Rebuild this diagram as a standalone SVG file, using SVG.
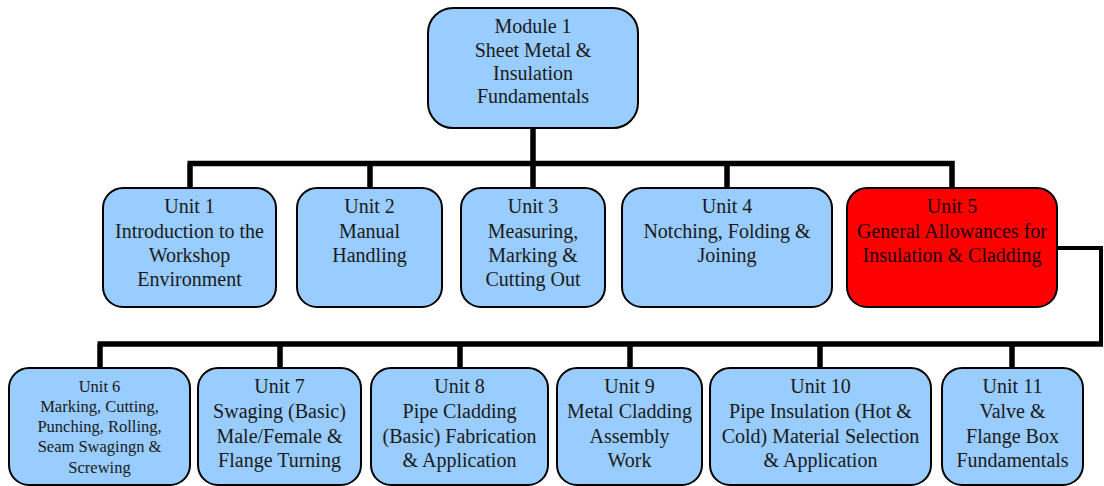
<svg xmlns="http://www.w3.org/2000/svg" width="1104" height="486" viewBox="0 0 1104 486">
<style>
.box{fill:#99ccff;stroke:#000;stroke-width:2}
.red{fill:#ff0000;stroke:#000;stroke-width:2}
text{font-family:"Liberation Serif","DejaVu Serif",serif;font-size:20px;fill:#1a1a1a;text-anchor:middle}
.sm{font-size:16.5px}
.dk{fill:#1a0000}
.ln{fill:none;stroke:#000;stroke-width:5.5;stroke-linecap:butt}
.ln2{fill:none;stroke:#000;stroke-width:4}
</style>
<rect width="1104" height="486" fill="#fff"/>
<g id="connectors">
<path class="ln" d="M533,128 V188 M187.5,163.5 H954.5 M190,163.5 V188 M370,163.5 V188 M727,163.5 V188 M952,161 V188"/>
<path class="ln2" d="M1057,248 H1101 V344"/>
<path class="ln" d="M97.5,344 H1103 M100,344 V368 M280,344 V368 M460,344 V368 M630,344 V368 M820,344 V368 M1012,344 V368"/>
</g>
<g id="module1"><rect class="box" x="428" y="8" width="210" height="120" rx="25"/>
<text x="533" y="33">Module 1</text><text x="533" y="57">Sheet Metal &amp;</text><text x="533" y="80">Insulation</text><text x="533" y="103">Fundamentals</text></g>
<g id="unit1"><rect class="box" x="103" y="188" width="173" height="119" rx="20"/>
<text x="189.5" y="213">Unit 1</text><text x="189.5" y="238">Introduction to the</text><text x="189.5" y="262">Workshop</text><text x="189.5" y="286">Environment</text></g>
<g id="unit2"><rect class="box" x="297" y="188" width="145" height="119" rx="20"/>
<text x="369.5" y="213">Unit 2</text><text x="369.5" y="238">Manual</text><text x="369.5" y="262">Handling</text></g>
<g id="unit3"><rect class="box" x="461" y="188" width="144" height="119" rx="20"/>
<text x="533" y="213">Unit 3</text><text x="533" y="238">Measuring,</text><text x="533" y="262">Marking &amp;</text><text x="533" y="286">Cutting Out</text></g>
<g id="unit4"><rect class="box" x="622" y="188" width="210" height="119" rx="20"/>
<text x="727" y="213">Unit 4</text><text x="727" y="238">Notching, Folding &amp;</text><text x="727" y="262">Joining</text></g>
<g id="unit5"><rect class="red" x="847" y="188" width="210" height="119" rx="20"/>
<text class="dk" x="952" y="213">Unit 5</text><text class="dk" x="952" y="238">General Allowances for</text><text class="dk" x="952" y="262">Insulation &amp; Cladding</text></g>
<g id="unit6"><rect class="box" x="9" y="368" width="181" height="117" rx="20"/>
<text class="sm" x="99.5" y="392">Unit 6</text><text class="sm" x="99.5" y="412">Marking, Cutting,</text><text class="sm" x="99.5" y="432">Punching, Rolling,</text><text class="sm" x="99.5" y="452">Seam Swagingn &amp;</text><text class="sm" x="99.5" y="473">Screwing</text></g>
<g id="unit7"><rect class="box" x="198" y="368" width="163" height="117" rx="20"/>
<text x="279.5" y="393">Unit 7</text><text x="279.5" y="418">Swaging (Basic)</text><text x="279.5" y="443">Male/Female &amp;</text><text x="279.5" y="467">Flange Turning</text></g>
<g id="unit8"><rect class="box" x="371" y="368" width="177" height="117" rx="20"/>
<text x="459.5" y="393">Unit 8</text><text x="459.5" y="418">Pipe Cladding</text><text x="459.5" y="443">(Basic) Fabrication</text><text x="459.5" y="467">&amp; Application</text></g>
<g id="unit9"><rect class="box" x="557" y="368" width="145" height="117" rx="20"/>
<text x="629.5" y="393">Unit 9</text><text x="629.5" y="418">Metal Cladding</text><text x="629.5" y="443">Assembly</text><text x="629.5" y="467">Work</text></g>
<g id="unit10"><rect class="box" x="710" y="368" width="221" height="117" rx="20"/>
<text x="820.5" y="393">Unit 10</text><text x="820.5" y="418">Pipe Insulation (Hot &amp;</text><text x="820.5" y="443">Cold) Material Selection</text><text x="820.5" y="467">&amp; Application</text></g>
<g id="unit11"><rect class="box" x="942" y="368" width="141" height="117" rx="20"/>
<text x="1012.5" y="393">Unit 11</text><text x="1012.5" y="418">Valve &amp;</text><text x="1012.5" y="443">Flange Box</text><text x="1012.5" y="467">Fundamentals</text></g>
</svg>
